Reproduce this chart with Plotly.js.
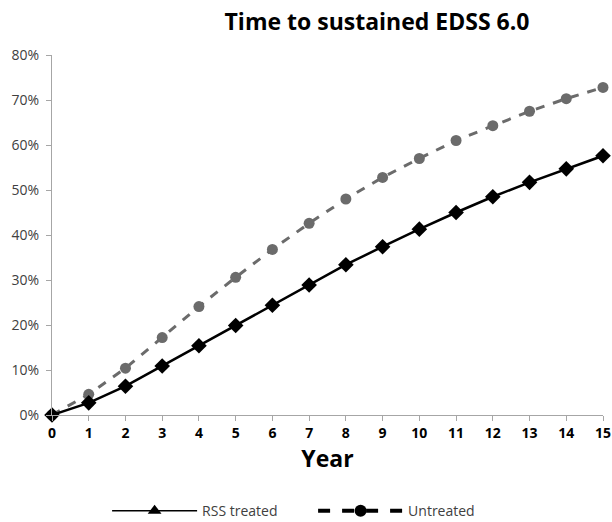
<!DOCTYPE html>
<html>
<head>
<meta charset="utf-8">
<script src="https://cdn.plot.ly/plotly-3.0.1.min.js"></script>
<style>html,body{margin:0;padding:0;background:#fff;}#chart{width:612px;height:522px;}</style>
</head>
<body>
<div id="chart"></div>
<script>
const years = [0,1,2,3,4,5,6,7,8,9,10,11,12,13,14,15];
const rssTreated = [0,0.027,0.064,0.109,0.154,0.199,0.244,0.289,0.334,0.374,0.413,0.450,0.485,0.517,0.547,0.576];
const untreated = [0,0.046,0.104,0.172,0.241,0.306,0.368,0.426,0.480,0.528,0.570,0.610,0.643,0.675,0.703,0.728];
const yTickVals = [0,0.1,0.2,0.3,0.4,0.5,0.6,0.7,0.8];
const seriesNames = ['RSS treated','Untreated'];

const traces = [
  {x: years, y: untreated, type:'scatter', mode:'lines+markers', showlegend:false, cliponaxis:false,
   line:{color:'#6b6b6b', width:3, dash:'dash'}, marker:{symbol:'circle', size:11, color:'#6b6b6b'}},
  {x: years, y: rssTreated, type:'scatter', mode:'lines+markers', showlegend:false, cliponaxis:false,
   line:{color:'#000', width:2.5}, marker:{symbol:'diamond', size:12, color:'#000'}},
  {x: [null], y: [null], type:'scatter', mode:'lines+markers', name: seriesNames[0],
   line:{color:'#000', width:1.5}, marker:{symbol:'triangle-up', size:12, color:'#000'}},
  {x: [null], y: [null], type:'scatter', mode:'lines+markers', name: seriesNames[1],
   line:{color:'#000', width:4, dash:'dash'}, marker:{symbol:'circle', size:12, color:'#000'}}
];

const layout = {
  width:612, height:522,
  margin:{l:52, r:9, t:55, b:107, autoexpand:false},
  paper_bgcolor:'#fff', plot_bgcolor:'#fff',
  font:{family:'Open Sans, sans-serif', color:'#404040'},
  title:{text:'<b>Time to sustained EDSS 6.0</b>', x:0.616, xanchor:'center', y:0.958, yanchor:'middle',
         font:{family:'Open Sans, sans-serif', size:23, color:'#000'}},
  xaxis:{range:[0,15], tickvals: years, ticktext: years.map(v=>'<b>'+v+'</b>'),
         showgrid:false, zeroline:false, showline:true, linecolor:'#a6a6a6', linewidth:1,
         ticks:'outside', ticklen:5, tickcolor:'#a6a6a6',
         tickfont:{size:14, color:'#000'},
         title:{text:'<b>Year</b>', font:{size:23, color:'#000'}, standoff:0}},
  yaxis:{range:[0,0.8], tickvals: yTickVals, tickformat:'.0%',
         showgrid:false, zeroline:false, showline:true, linecolor:'#a6a6a6', linewidth:1,
         ticks:'outside', ticklen:5, tickcolor:'#a6a6a6', ticklabelstandoff:4,
         tickfont:{size:14, color:'#404040'}},
  legend:{orientation:'h', x:0.1, xanchor:'left', y:-0.267, yanchor:'middle',
          font:{size:14, color:'#404040'}, itemwidth:85, entrywidth:106, traceorder:'normal'},
  showlegend:true
};

Plotly.newPlot('chart', traces, layout, {displayModeBar:false, staticPlot:true});
</script>
</body>
</html>
